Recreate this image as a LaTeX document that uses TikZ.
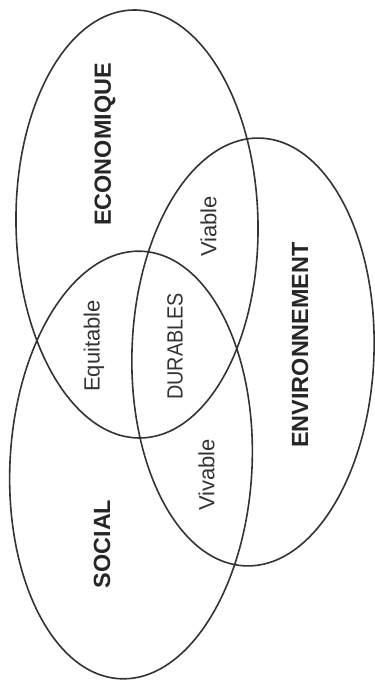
\documentclass[tikz,border=0pt]{standalone}
\usepackage{fontspec}
\setmainfont{Liberation Sans}
\newfontfamily\narrowfont[FakeStretch=0.9]{Liberation Sans}
\usetikzlibrary{shapes.geometric}
\usetikzlibrary{positioning}

\tikzset{
  venn/.style={ellipse, draw=black!80, line width=1.6pt,
    minimum width=242pt, minimum height=428pt, inner sep=0pt},
  biglbl/.style={rotate=90, inner sep=0pt, text=black!85,
    font=\fontsize{23.4}{28}\selectfont\bfseries},
  smalllbl/.style={rotate=90, inner sep=0pt, text=black!80,
    font=\fontsize{22}{26}\selectfont},
}

\begin{document}
\begin{tikzpicture}[x=1pt, y=1pt]
  \useasboundingbox (0,0) rectangle (375,681);

    % Define the sets
    \node[venn, rotate=1]  (eco) at (137,457) {};
    \node[venn, rotate=-2] (env) at (253,329) {};
    \node[venn, rotate=-3] (soc) at (131,216) {};

    % Name the sets
    \node[biglbl] (econame) at (105,536.5) {ECONOMIQUE};
    \node[biglbl] (envname) at (300,336)   {ENVIRONNEMENT};
    \node[biglbl] (socname) at (102,137)   {SOCIAL};

    % Name the overlaps
    \node[smalllbl] (viab) at (208.5,454.5) {Viable};
    \node[smalllbl] (equi) at (94,335)      {Equitable};
    \node[smalllbl] (viv)  at (206.5,206)   {Vivable};
    \node[smalllbl, font=\narrowfont\fontsize{22}{26}\selectfont] (dur) at (175,334.5) {DURABLES};
  \end{tikzpicture}
\end{document}
